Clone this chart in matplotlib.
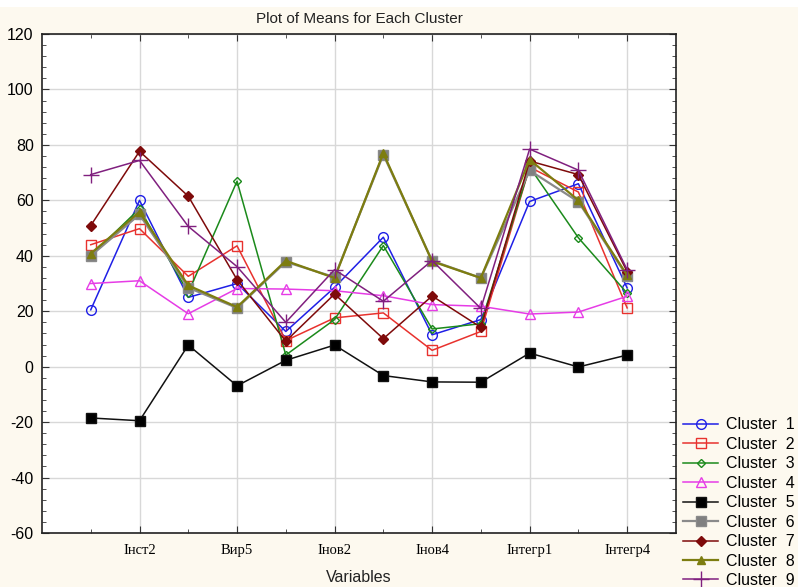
import numpy as np
import matplotlib.pyplot as plt
from matplotlib.patches import Rectangle
from matplotlib.ticker import MultipleLocator, FixedLocator

plt.rcParams['axes.unicode_minus'] = False

# змінні (підписані лише непарні)
tick_pos = [1, 3, 5, 7, 9, 11]
tick_labels = ['Інст2', 'Вир5', 'Інов2', 'Інов4', 'Інтегр1', 'Інтегр4']
n_vars = 12

# середні значення по кластерах
cl1 = [20.5, 60.0, 25.0, 30.0, 12.7, 28.6, 46.7, 11.5, 17.0, 59.6, 66.0, 28.4]
cl2 = [44.0, 49.8, 32.6, 43.6, 9.4, 17.6, 19.4, 5.9, 12.7, 72.0, 63.0, 21.2]
cl3 = [40.0, 57.0, 26.7, 66.9, 4.2, 17.0, 43.7, 13.6, 15.5, 72.0, 46.5, 26.5]
cl4 = [30.0, 31.0, 19.1, 28.2, 28.0, 27.4, 25.6, 22.4, 21.8, 19.0, 19.7, 25.4]
cl5 = [-18.5, -19.5, 7.8, -6.9, 2.3, 7.8, -3.2, -5.5, -5.6, 4.9, -0.1, 4.2]
cl6 = [40.0, 54.9, 28.5, 21.2, 37.8, 32.3, 76.5, 38.2, 32.0, 70.8, 59.5, 32.6]
cl7 = [50.9, 77.7, 61.5, 31.4, 9.2, 26.2, 10.1, 25.5, 14.2, 74.2, 69.3, 34.3]
cl8 = [40.8, 55.8, 29.3, 21.5, 38.2, 32.0, 77.0, 38.0, 32.0, 74.7, 60.0, 33.0]
cl9 = [69.3, 74.4, 50.6, 36.1, 16.0, 35.0, 23.6, 38.3, 21.0, 78.5, 70.9, 35.0]

series = [cl1, cl2, cl3, cl4, cl5, cl6, cl7, cl8, cl9]

# стилі ліній та маркерів
styles = [
    dict(color='#1f1fe6', marker='o', ms=7, mfc='none'),
    dict(color='#e8322e', marker='s', ms=7, mfc='none'),
    dict(color='#1b8a1b', marker='D', ms=4.5, mfc='none'),
    dict(color='#e63ce6', marker='^', ms=7, mfc='none'),
    dict(color='#111111', marker='s', ms=7.5, mfc='#000000'),
    dict(color='#8a8a8a', marker='s', ms=7.5, mfc='#808080'),
    dict(color='#7e0a0a', marker='D', ms=5, mfc='#7e0a0a'),
    dict(color='#7d7d10', marker='^', ms=6, mfc='#7d7d10'),
    dict(color='#80207f', marker='+', ms=11, mfc='none'),
]

fig = plt.figure(figsize=(7.98, 5.87), dpi=100)
fig.patch.set_facecolor('#fdf9ef')
fig.patches.append(Rectangle((0, 0.988), 1, 0.012, transform=fig.transFigure,
                             facecolor='white', edgecolor='none'))
ax = fig.add_axes([0.0526, 0.092, 0.7944, 0.850])
ax.set_facecolor('white')

x = np.arange(n_vars)
for i, (y, st) in enumerate(zip(series, styles), 1):
    ax.plot(x, y, linestyle='-', lw=1.1 if i not in (6, 8) else 1.6,
            color=st['color'], marker=st['marker'], markersize=st['ms'],
            markerfacecolor=st['mfc'], markeredgecolor=st['color'],
            markeredgewidth=1.0, label=f'Cluster  {i}')

ax.set_xlim(-1, 12)
ax.set_ylim(-60, 120)

ax.xaxis.set_major_locator(FixedLocator(tick_pos))
ax.xaxis.set_minor_locator(FixedLocator([0, 2, 4, 6, 8, 10]))
ax.set_xticklabels(tick_labels, family='Liberation Serif', fontsize=10.5)
ax.yaxis.set_major_locator(MultipleLocator(20))
ax.yaxis.set_minor_locator(MultipleLocator(4))
for lab in ax.get_yticklabels():
    lab.set_family('Liberation Sans')
    lab.set_fontsize(11.5)

ax.tick_params(which='both', direction='in', top=True, right=True, color='#333333')
ax.tick_params(which='major', length=5, pad=8)
ax.tick_params(axis='y', which='major', labelleft=True, length=5, pad=6)
ax.tick_params(which='minor', length=3)
ax.grid(True, which='major', color='#d8d8d8', lw=1.0)
ax.set_axisbelow(True)
for sp in ax.spines.values():
    sp.set_linewidth(1.2)
    sp.set_color('#222222')

ax.set_title('Plot of Means for Each Cluster', family='Liberation Sans',
             fontsize=11, color='#222222', pad=8)
ax.set_xlabel('Variables', family='Liberation Sans', fontsize=11.5,
              color='#222222', labelpad=9)

fig.legend(loc='upper left', bbox_to_anchor=(0.848, 0.30), frameon=False,
           prop={'family': 'Liberation Sans', 'size': 11.5},
           handlelength=2.2, handletextpad=0.5, labelspacing=0.28,
           borderaxespad=0)

fig.savefig('out.png', dpi=100, facecolor=fig.get_facecolor())
